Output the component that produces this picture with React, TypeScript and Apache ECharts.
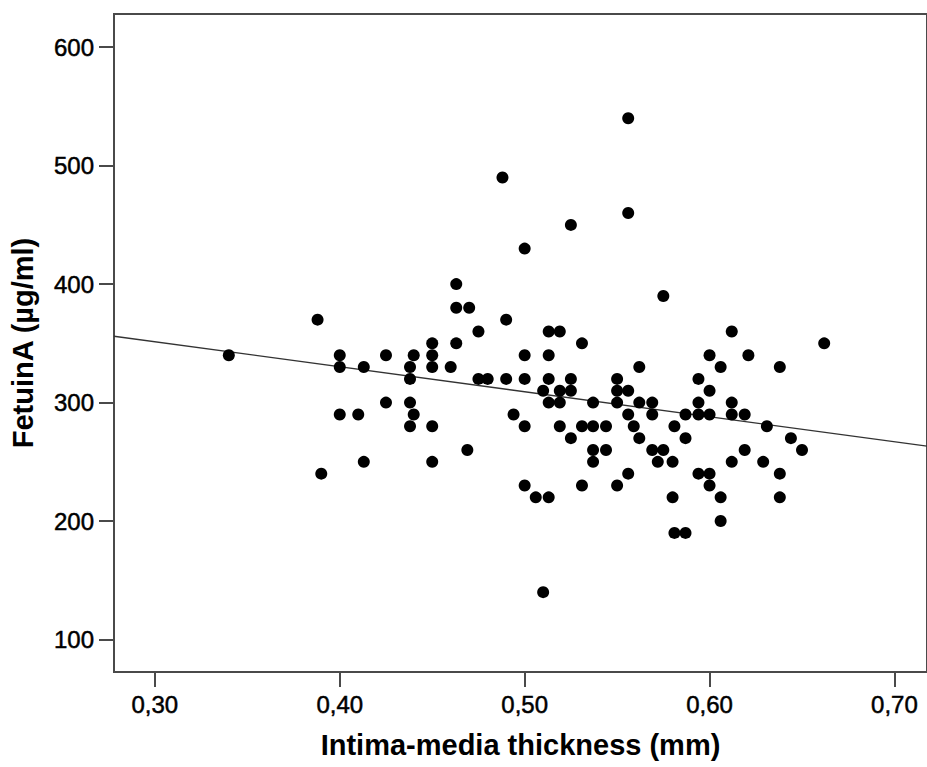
import React, { useEffect, useRef } from "react";
import * as echarts from "echarts";

// Intima-media thickness (mm) of each subject, paired with fetuin values below
const imt: number[] = [
  0.556, 0.488, 0.556, 0.525, 0.5, 0.463, 0.575,
  0.463, 0.47,
  0.388, 0.49,
  0.475, 0.513, 0.519, 0.612,
  0.45, 0.463, 0.531, 0.662,
  0.34, 0.4, 0.425, 0.44, 0.45, 0.5, 0.513, 0.6, 0.621,
  0.4, 0.413, 0.438, 0.45, 0.46, 0.562, 0.606, 0.638,
  0.438, 0.475, 0.48, 0.49, 0.5, 0.513, 0.525, 0.55, 0.594,
  0.51, 0.519, 0.525, 0.55, 0.556, 0.6,
  0.425, 0.438, 0.513, 0.519, 0.537, 0.55, 0.562, 0.569, 0.594, 0.612,
  0.4, 0.41, 0.44, 0.494, 0.556, 0.569, 0.587, 0.594, 0.6, 0.612, 0.619,
  0.438, 0.45, 0.5, 0.519, 0.531, 0.537, 0.544, 0.559, 0.581, 0.631,
  0.525, 0.562, 0.587, 0.644,
  0.469, 0.537, 0.544, 0.569, 0.575, 0.619, 0.65,
  0.413, 0.45, 0.537, 0.572, 0.58, 0.612, 0.629,
  0.39, 0.556, 0.594, 0.6, 0.638,
  0.5, 0.531, 0.55, 0.6,
  0.506, 0.513, 0.58, 0.606, 0.638,
  0.606,
  0.581, 0.587,
  0.51,
];

// FetuinA (µg/ml)
const fetuin: number[] = [
  540, 490, 460, 450, 430, 400, 390,
  380, 380,
  370, 370,
  360, 360, 360, 360,
  350, 350, 350, 350,
  340, 340, 340, 340, 340, 340, 340, 340, 340,
  330, 330, 330, 330, 330, 330, 330, 330,
  320, 320, 320, 320, 320, 320, 320, 320, 320,
  310, 310, 310, 310, 310, 310,
  300, 300, 300, 300, 300, 300, 300, 300, 300, 300,
  290, 290, 290, 290, 290, 290, 290, 290, 290, 290, 290,
  280, 280, 280, 280, 280, 280, 280, 280, 280, 280,
  270, 270, 270, 270,
  260, 260, 260, 260, 260, 260, 260,
  250, 250, 250, 250, 250, 250, 250,
  240, 240, 240, 240, 240,
  230, 230, 230, 230,
  220, 220, 220, 220, 220,
  200,
  190, 190,
  140,
];

// Fit line end points
const fitX: number[] = [0.2779, 0.7176];
const fitY: number[] = [356.0, 263.3];

const xTicks: number[] = [0.3, 0.4, 0.5, 0.6, 0.7];
const yTicks: number[] = [100, 200, 300, 400, 500, 600];

const xRange: number[] = [0.2779, 0.7176];
const yRange: number[] = [72.6, 628];

export default function App() {
  const ref = useRef<HTMLDivElement>(null);

  useEffect(() => {
    if (!ref.current) return;
    const chart = echarts.init(ref.current, null, { renderer: "svg" });
    const axisColor = "#4a4a4a";
    const textColor = "#000";
    const font = "'Liberation Sans', Arial, sans-serif";
    const tickLabel = {
      margin: 20,
      fontFamily: font,
      fontSize: 24,
      color: textColor,
      textBorderColor: textColor,
      textBorderWidth: 0.5,
    };
    chart.setOption({
      animation: false,
      backgroundColor: "#fff",
      grid: {
        left: 113,
        top: 14,
        right: -3,
        bottom: 95,
        show: true,
        borderColor: axisColor,
        borderWidth: 2,
        backgroundColor: "transparent",
      },
      xAxis: {
        type: "value",
        min: xRange[0],
        max: xRange[1],
        name: "Intima-media thickness (mm)",
        nameLocation: "middle",
        nameGap: 58,
        nameTextStyle: {
          fontFamily: font,
          fontSize: 29,
          fontWeight: "bold",
          color: textColor,
        },
        axisLine: { show: true, lineStyle: { color: axisColor, width: 2 } },
        axisTick: {
          show: true,
          length: 15,
          customValues: xTicks,
          lineStyle: { color: axisColor, width: 2 },
        },
        axisLabel: {
          ...tickLabel,
          customValues: xTicks,
          formatter: (v: number) => v.toFixed(2).replace(".", ","),
        },
        splitLine: { show: false },
      },
      yAxis: {
        type: "value",
        min: yRange[0],
        max: yRange[1],
        name: "FetuinA (µg/ml)",
        nameLocation: "middle",
        nameGap: 77,
        nameTextStyle: {
          fontFamily: font,
          fontSize: 29,
          fontWeight: "bold",
          color: textColor,
        },
        axisLine: { show: true, lineStyle: { color: axisColor, width: 2 } },
        axisTick: {
          show: true,
          length: 15,
          customValues: yTicks,
          lineStyle: { color: axisColor, width: 2 },
        },
        axisLabel: {
          ...tickLabel,
          customValues: yTicks,
        },
        splitLine: { show: false },
      },
      series: [
        {
          type: "line",
          data: fitX.map((x, i) => [x, fitY[i]]),
          symbol: "none",
          lineStyle: { color: "#333", width: 1.3 },
          silent: true,
          z: 1,
        },
        {
          type: "scatter",
          data: imt.map((x, i) => [x, fetuin[i]]),
          symbol: "circle",
          symbolSize: 12,
          itemStyle: { color: "#000", opacity: 1 },
          z: 3,
        },
      ],
    });
    return () => chart.dispose();
  }, []);

  return (
    <div
      ref={ref}
      style={{ position: "absolute", left: 0, top: 0, width: 927, height: 767 }}
    />
  );
}
